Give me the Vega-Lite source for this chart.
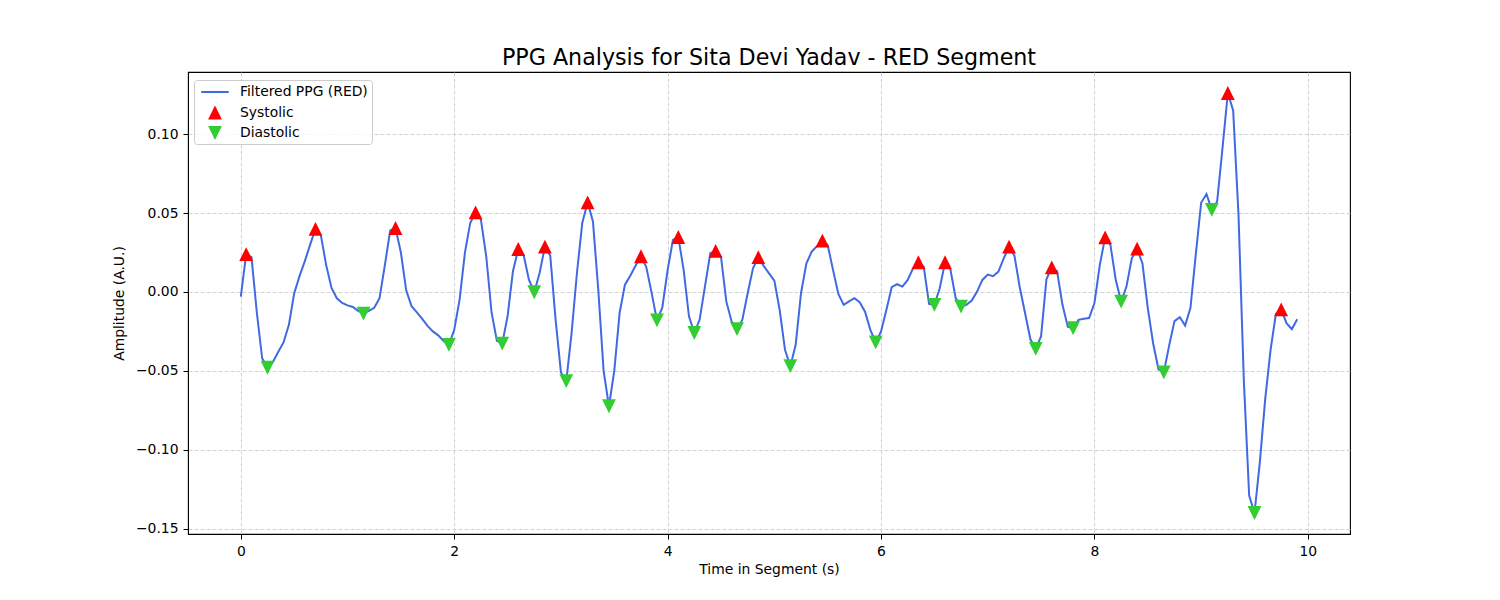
{
  "$schema": "https://vega.github.io/schema/vega-lite/v6.json",
  "autosize": "none",
  "padding": {"left": 188, "top": 72, "right": 150, "bottom": 66},
  "width": 1162,
  "height": 462,
  "background": "white",
  "title": {
    "text": "PPG Analysis for Sita Devi Yadav - RED Segment",
    "font": "DejaVu Sans",
    "fontSize": 22.2,
    "fontWeight": "normal",
    "color": "black",
    "anchor": "middle",
    "baseline": "alphabetic",
    "offset": 7,
    "dy": 22
  },
  "datasets": {
    "ppg": [
      {"t": 0, "a": -0.003}, {"t": 0.05, "a": 0.024}, {"t": 0.1, "a": 0.022}, {"t": 0.15, "a": -0.013},
      {"t": 0.2, "a": -0.042}, {"t": 0.25, "a": -0.048}, {"t": 0.3, "a": -0.0445}, {"t": 0.35, "a": -0.038},
      {"t": 0.4, "a": -0.032}, {"t": 0.45, "a": -0.021}, {"t": 0.5, "a": -0.001}, {"t": 0.55, "a": 0.010},
      {"t": 0.6, "a": 0.0195}, {"t": 0.65, "a": 0.030}, {"t": 0.7, "a": 0.040}, {"t": 0.75, "a": 0.036},
      {"t": 0.8, "a": 0.017}, {"t": 0.85, "a": 0.0025}, {"t": 0.9, "a": -0.004}, {"t": 0.95, "a": -0.007},
      {"t": 1.0, "a": -0.0085}, {"t": 1.05, "a": -0.0095}, {"t": 1.1, "a": -0.012}, {"t": 1.15, "a": -0.0137},
      {"t": 1.2, "a": -0.012}, {"t": 1.25, "a": -0.010}, {"t": 1.3, "a": -0.004}, {"t": 1.35, "a": 0.017},
      {"t": 1.4, "a": 0.039}, {"t": 1.45, "a": 0.0405}, {"t": 1.5, "a": 0.025}, {"t": 1.55, "a": 0.001},
      {"t": 1.6, "a": -0.009}, {"t": 1.65, "a": -0.013}, {"t": 1.7, "a": -0.017}, {"t": 1.75, "a": -0.0215},
      {"t": 1.8, "a": -0.025}, {"t": 1.85, "a": -0.0275}, {"t": 1.9, "a": -0.031}, {"t": 1.95, "a": -0.0335},
      {"t": 2.0, "a": -0.024}, {"t": 2.05, "a": -0.005}, {"t": 2.1, "a": 0.0247}, {"t": 2.15, "a": 0.0437},
      {"t": 2.2, "a": 0.0504}, {"t": 2.25, "a": 0.0458}, {"t": 2.3, "a": 0.0226}, {"t": 2.35, "a": -0.013},
      {"t": 2.4, "a": -0.031}, {"t": 2.45, "a": -0.0327}, {"t": 2.5, "a": -0.0154}, {"t": 2.55, "a": 0.013},
      {"t": 2.6, "a": 0.0272}, {"t": 2.65, "a": 0.0236}, {"t": 2.7, "a": 0.0078}, {"t": 2.75, "a": -0.0002},
      {"t": 2.8, "a": 0.012}, {"t": 2.85, "a": 0.0287}, {"t": 2.9, "a": 0.023}, {"t": 2.95, "a": -0.0175},
      {"t": 3.0, "a": -0.051}, {"t": 3.05, "a": -0.0565}, {"t": 3.1, "a": -0.026}, {"t": 3.15, "a": 0.012},
      {"t": 3.2, "a": 0.0437}, {"t": 3.25, "a": 0.0567}, {"t": 3.3, "a": 0.0447}, {"t": 3.35, "a": 0.0015},
      {"t": 3.4, "a": -0.050}, {"t": 3.45, "a": -0.0724}, {"t": 3.5, "a": -0.050}, {"t": 3.55, "a": -0.0133},
      {"t": 3.6, "a": 0.0046}, {"t": 3.65, "a": 0.0103}, {"t": 3.7, "a": 0.0167}, {"t": 3.75, "a": 0.0226},
      {"t": 3.8, "a": 0.0158}, {"t": 3.85, "a": -0.0006}, {"t": 3.9, "a": -0.018}, {"t": 3.95, "a": -0.010},
      {"t": 4.0, "a": 0.014}, {"t": 4.05, "a": 0.033}, {"t": 4.1, "a": 0.0348}, {"t": 4.15, "a": 0.014},
      {"t": 4.2, "a": -0.0154}, {"t": 4.25, "a": -0.026}, {"t": 4.3, "a": -0.0175}, {"t": 4.35, "a": 0.0035},
      {"t": 4.4, "a": 0.0245}, {"t": 4.45, "a": 0.026}, {"t": 4.5, "a": 0.0224}, {"t": 4.55, "a": -0.006},
      {"t": 4.6, "a": -0.0188}, {"t": 4.65, "a": -0.0236}, {"t": 4.7, "a": -0.0177}, {"t": 4.75, "a": -0.0008},
      {"t": 4.8, "a": 0.015}, {"t": 4.85, "a": 0.022}, {"t": 4.9, "a": 0.0165}, {"t": 4.95, "a": 0.0118},
      {"t": 5.0, "a": 0.0072}, {"t": 5.05, "a": -0.0114}, {"t": 5.1, "a": -0.0367}, {"t": 5.15, "a": -0.047},
      {"t": 5.2, "a": -0.0335}, {"t": 5.25, "a": -0.0008}, {"t": 5.3, "a": 0.018}, {"t": 5.35, "a": 0.0255},
      {"t": 5.4, "a": 0.029}, {"t": 5.45, "a": 0.0325}, {"t": 5.5, "a": 0.0297}, {"t": 5.55, "a": 0.014},
      {"t": 5.6, "a": -0.0013}, {"t": 5.65, "a": -0.0082}, {"t": 5.7, "a": -0.006}, {"t": 5.75, "a": -0.004},
      {"t": 5.8, "a": -0.0065}, {"t": 5.85, "a": -0.0125}, {"t": 5.9, "a": -0.024}, {"t": 5.95, "a": -0.032},
      {"t": 6.0, "a": -0.025}, {"t": 6.05, "a": -0.0114}, {"t": 6.1, "a": 0.003}, {"t": 6.15, "a": 0.0049},
      {"t": 6.2, "a": 0.0034}, {"t": 6.25, "a": 0.0076}, {"t": 6.3, "a": 0.015}, {"t": 6.35, "a": 0.0188},
      {"t": 6.4, "a": 0.016}, {"t": 6.45, "a": -0.0076}, {"t": 6.5, "a": -0.0082}, {"t": 6.55, "a": 0.0023},
      {"t": 6.6, "a": 0.0188}, {"t": 6.65, "a": 0.0143}, {"t": 6.7, "a": -0.004}, {"t": 6.75, "a": -0.0093},
      {"t": 6.8, "a": -0.0082}, {"t": 6.85, "a": -0.0055}, {"t": 6.9, "a": 0.0002}, {"t": 6.95, "a": 0.0076},
      {"t": 7.0, "a": 0.011}, {"t": 7.05, "a": 0.010}, {"t": 7.1, "a": 0.0129}, {"t": 7.15, "a": 0.0213},
      {"t": 7.2, "a": 0.0287}, {"t": 7.25, "a": 0.023}, {"t": 7.3, "a": 0.003}, {"t": 7.35, "a": -0.0135},
      {"t": 7.4, "a": -0.030}, {"t": 7.45, "a": -0.036}, {"t": 7.5, "a": -0.028}, {"t": 7.55, "a": 0.008},
      {"t": 7.6, "a": 0.0156}, {"t": 7.65, "a": 0.013}, {"t": 7.7, "a": -0.008}, {"t": 7.75, "a": -0.022},
      {"t": 7.8, "a": -0.023}, {"t": 7.85, "a": -0.0177}, {"t": 7.9, "a": -0.017}, {"t": 7.95, "a": -0.0165},
      {"t": 8.0, "a": -0.007}, {"t": 8.05, "a": 0.017}, {"t": 8.1, "a": 0.0346}, {"t": 8.15, "a": 0.0297},
      {"t": 8.2, "a": 0.0076}, {"t": 8.25, "a": -0.0061}, {"t": 8.3, "a": 0.0034}, {"t": 8.35, "a": 0.0213},
      {"t": 8.4, "a": 0.0274}, {"t": 8.45, "a": 0.018}, {"t": 8.5, "a": -0.0103}, {"t": 8.55, "a": -0.0325},
      {"t": 8.6, "a": -0.049}, {"t": 8.65, "a": -0.051}, {"t": 8.7, "a": -0.034}, {"t": 8.75, "a": -0.0185},
      {"t": 8.8, "a": -0.016}, {"t": 8.85, "a": -0.0213}, {"t": 8.9, "a": -0.010}, {"t": 8.95, "a": 0.024},
      {"t": 9.0, "a": 0.0565}, {"t": 9.05, "a": 0.062}, {"t": 9.1, "a": 0.052}, {"t": 9.15, "a": 0.0573},
      {"t": 9.2, "a": 0.091}, {"t": 9.25, "a": 0.126}, {"t": 9.3, "a": 0.115}, {"t": 9.35, "a": 0.049},
      {"t": 9.4, "a": -0.056}, {"t": 9.45, "a": -0.129}, {"t": 9.5, "a": -0.140}, {"t": 9.55, "a": -0.108},
      {"t": 9.6, "a": -0.068}, {"t": 9.65, "a": -0.037}, {"t": 9.7, "a": -0.014}, {"t": 9.75, "a": -0.011},
      {"t": 9.8, "a": -0.0198}, {"t": 9.85, "a": -0.0236}, {"t": 9.9, "a": -0.0173}
    ],
    "peaks": [
      {"t": 0.05, "a": 0.024, "s": "Systolic"}, {"t": 0.7, "a": 0.040, "s": "Systolic"},
      {"t": 1.45, "a": 0.0405, "s": "Systolic"}, {"t": 2.2, "a": 0.0504, "s": "Systolic"},
      {"t": 2.6, "a": 0.0272, "s": "Systolic"}, {"t": 2.85, "a": 0.0287, "s": "Systolic"},
      {"t": 3.25, "a": 0.0567, "s": "Systolic"}, {"t": 3.75, "a": 0.0226, "s": "Systolic"},
      {"t": 4.1, "a": 0.0348, "s": "Systolic"}, {"t": 4.45, "a": 0.026, "s": "Systolic"},
      {"t": 4.85, "a": 0.022, "s": "Systolic"}, {"t": 5.45, "a": 0.0325, "s": "Systolic"},
      {"t": 6.35, "a": 0.0188, "s": "Systolic"}, {"t": 6.6, "a": 0.0188, "s": "Systolic"},
      {"t": 7.2, "a": 0.0287, "s": "Systolic"}, {"t": 7.6, "a": 0.0156, "s": "Systolic"},
      {"t": 8.1, "a": 0.0346, "s": "Systolic"}, {"t": 8.4, "a": 0.0274, "s": "Systolic"},
      {"t": 9.25, "a": 0.126, "s": "Systolic"}, {"t": 9.75, "a": -0.011, "s": "Systolic"},
      {"t": 0.25, "a": -0.048, "s": "Diastolic"}, {"t": 1.15, "a": -0.0137, "s": "Diastolic"},
      {"t": 1.95, "a": -0.0335, "s": "Diastolic"}, {"t": 2.45, "a": -0.0327, "s": "Diastolic"},
      {"t": 2.75, "a": -0.0002, "s": "Diastolic"}, {"t": 3.05, "a": -0.0565, "s": "Diastolic"},
      {"t": 3.45, "a": -0.0724, "s": "Diastolic"}, {"t": 3.9, "a": -0.018, "s": "Diastolic"},
      {"t": 4.25, "a": -0.026, "s": "Diastolic"}, {"t": 4.65, "a": -0.0236, "s": "Diastolic"},
      {"t": 5.15, "a": -0.047, "s": "Diastolic"}, {"t": 5.95, "a": -0.032, "s": "Diastolic"},
      {"t": 6.5, "a": -0.0082, "s": "Diastolic"}, {"t": 6.75, "a": -0.0093, "s": "Diastolic"},
      {"t": 7.45, "a": -0.036, "s": "Diastolic"}, {"t": 7.8, "a": -0.023, "s": "Diastolic"},
      {"t": 8.25, "a": -0.0061, "s": "Diastolic"}, {"t": 8.65, "a": -0.051, "s": "Diastolic"},
      {"t": 9.1, "a": 0.052, "s": "Diastolic"}, {"t": 9.5, "a": -0.140, "s": "Diastolic"}
    ]
  },
  "encoding": {
    "x": {
      "field": "t",
      "type": "quantitative",
      "scale": {"domain": [-0.495, 10.395], "nice": false, "zero": false},
      "axis": {"values": [0, 2, 4, 6, 8, 10], "format": "d", "title": "Time in Segment (s)", "titlePadding": 5}
    },
    "y": {
      "field": "a",
      "type": "quantitative",
      "scale": {"domain": [-0.1533, 0.1393], "nice": false, "zero": false},
      "axis": {"values": [-0.15, -0.1, -0.05, 0, 0.05, 0.1], "format": ".2f", "title": "Amplitude (A.U.)", "titlePadding": 9}
    }
  },
  "layer": [
    {
      "data": {"name": "ppg"},
      "mark": {"type": "line", "color": "#4169e1", "strokeWidth": 2}
    },
    {
      "data": {"name": "peaks"},
      "mark": {"type": "point", "filled": true, "opacity": 1, "size": 190},
      "encoding": {
        "color": {
          "field": "s",
          "type": "nominal",
          "scale": {
            "domain": ["Filtered PPG (RED)", "Systolic", "Diastolic"],
            "range": ["#4169e1", "#ff0000", "#32cd32"]
          },
          "legend": {
            "title": null,
            "orient": "none",
            "legendX": 6,
            "legendY": 8,
            "padding": 4,
            "symbolSize": 190,
            "symbolOffset": 9,
            "labelOffset": 17,
            "rowPadding": 5.5,
            "labelFont": "DejaVu Sans",
            "labelFontSize": 13.9,
            "labelColor": "black",
            "fillColor": "rgba(255,255,255,0.8)",
            "strokeColor": "#cccccc",
            "cornerRadius": 3,
            "symbolOpacity": 1
          }
        },
        "shape": {
          "field": "s",
          "type": "nominal",
          "scale": {
            "domain": ["Filtered PPG (RED)", "Systolic", "Diastolic"],
            "range": ["M-2,-0.15H2V0.15H-2Z", "M0,-1L-1,1L1,1Z", "M0,1L-1,-1L1,-1Z"]
          },
          "legend": null
        }
      }
    }
  ],
  "config": {
    "view": {"stroke": "black", "strokeWidth": 1.1},
    "axis": {
      "labelFont": "DejaVu Sans",
      "titleFont": "DejaVu Sans",
      "labelFontSize": 13.9,
      "titleFontSize": 13.9,
      "titleFontWeight": "normal",
      "labelColor": "black",
      "titleColor": "black",
      "tickColor": "black",
      "domainColor": "black",
      "tickSize": 5,
      "labelPadding": 5,
      "labelFlush": false,
      "labelOverlap": false,
      "gridColor": "#c8c8c8",
      "gridDash": [4, 2],
      "gridWidth": 0.8
    }
  }
}
